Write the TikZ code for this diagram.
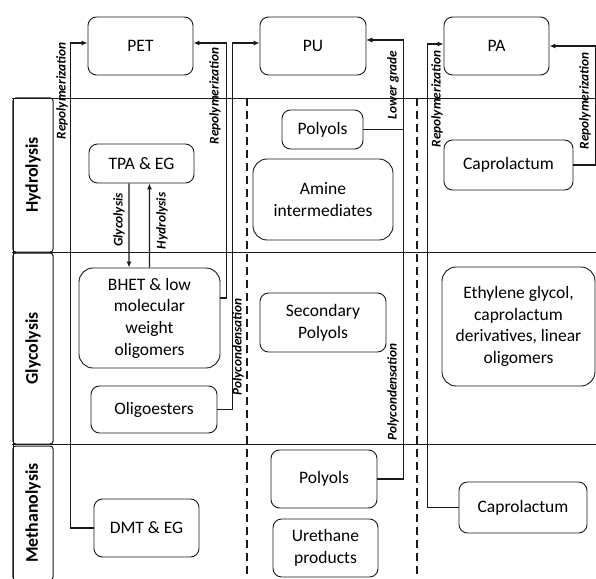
\documentclass[tikz,border=0pt]{standalone}
\usepackage{fontspec}
\setmainfont{Carlito}
\usepackage{tikz}
\usetikzlibrary{arrows.meta,positioning,calc}
\definecolor{darkLine}{HTML}{1A1A1A}

\begin{document}
\begin{tikzpicture}[x=1bp, y=-1bp,
    box/.style={rectangle, draw=darkLine, line width=0.9bp, rounded corners=3mm, align=center, inner sep=0pt, font=\fontsize{17.5bp}{21.7bp}\selectfont},
    bigbox/.style={box, rounded corners=5mm},
    rowbox/.style={rectangle, draw=darkLine, line width=1bp, rounded corners=1mm, rotate=90, minimum height=40bp, inner sep=0pt, font=\fontsize{17.8bp}{20bp}\selectfont\bfseries},
    lbl/.style={rotate=90, inner sep=1bp, font=\fontsize{13.3bp}{15bp}\selectfont\bfseries\itshape},
    grid/.style={draw=darkLine, line width=0.8bp},
    divider/.style={draw=darkLine, line width=1.3bp, dash pattern=on 8bp off 5bp},
    line/.style={draw=darkLine, line width=1.3bp, -{Latex[length=6bp, width=5bp]}}
]
\useasboundingbox (0,0) rectangle (596,579);

% Table
\draw[grid] (12,98) -- (596,98);
\draw[grid] (12,252) -- (596,252);
\draw[grid] (12,444) -- (596,444);
\draw[grid] (13,98) -- (13,579);
\draw[divider] (247,98) -- (247,579);
\draw[divider] (417,98) -- (417,579);

\node[rowbox, minimum width=154bp] (hyd) at (33,175) {Hydrolysis};
\node[rowbox, minimum width=191bp] (gly) at (33,348.5) {Glycolysis};
\node[rowbox, minimum width=134bp] (met) at (33,513) {Methanolysis};

% Nodes
\node[box, minimum width=105bp, minimum height=58bp] (pet) at (140.5,46) {PET};
\node[box, minimum width=106bp, minimum height=58bp] (pu) at (313,46) {PU};
\node[box, minimum width=105bp, minimum height=58bp] (pa) at (496.5,46) {PA};

\node[box, minimum width=105bp, minimum height=39bp] (tpa) at (141.5,163.5) {TPA \& EG};
\node[bigbox, minimum width=141bp, minimum height=100bp] (bhet) at (149.5,318) {BHET \& low\\molecular\\weight\\oligomers};
\node[box, minimum width=126bp, minimum height=47bp] (oligo) at (154,409.5) {Oligoesters};
\node[box, minimum width=105bp, minimum height=58bp] (dmt) at (146.5,528) {DMT \& EG};

\node[box, minimum width=81bp, minimum height=39bp] (polh) at (322.5,129.5) {Polyols};
\node[bigbox, minimum width=140bp, minimum height=81bp] (amine) at (323,199.5) {Amine\\intermediates};
\node[box, minimum width=126bp, minimum height=59bp] (secpol) at (323,322.5) {Secondary\\Polyols};
\node[box, minimum width=106bp, minimum height=58bp] (polm) at (324,479) {Polyols};
\node[box, minimum width=105bp, minimum height=58bp] (ureth) at (325.5,548) {Urethane\\products};

\node[box, minimum width=129bp, minimum height=50bp] (caph) at (508.5,165) {Caprolactum};
\node[bigbox, minimum width=153bp, minimum height=119bp] (egly) at (518.5,326.5) {Ethylene glycol,\\caprolactum\\derivatives, linear\\oligomers};
\node[box, minimum width=128bp, minimum height=51bp] (capm) at (523,507.5) {Caprolactum};

% Connections
\draw[line] (dmt.west) -- ++(-23,0) |- ([yshift=3bp]pet.west);
\draw[line] ([yshift=20bp]bhet.east) -- ++(6,0) |- ([yshift=3bp]pet.east);
\draw[line] (oligo.east) -- ++(15,0) |- ([yshift=3bp]pu.west);
\draw[line] (polh.east) -- ++(40,0) |- ([yshift=6bp]pu.east);
\draw[line] (polm.east) -- ++(26,0) |- ([yshift=6bp]pu.east);
\draw[line] (capm.west) -- ++(-31,0) |- ([yshift=2bp]pa.west);
\draw[line] (caph.east) -- ++(22,0) |- (pa.east);
\draw[line] ([xshift=-12.5bp]tpa.south) -- ([xshift=-20.5bp]bhet.north);
\draw[line] (bhet.north) -- ([xshift=8bp]tpa.south);

% Labels
\node[lbl] (repl1) at (62,91) {Repolymerization};
\node[lbl] (repl2) at (215,96) {Repolymerization};
\node[lbl] (polyc1) at (238,347) {Polycondensation};
\node[lbl] (lowg) at (393,85) {Lower grade};
\node[lbl] (polyc2) at (393,392) {Polycondensation};
\node[lbl] (repl3) at (437,99) {Repolymerization};
\node[lbl] (repl4) at (585,101) {Repolymerization};
\node[lbl] (glyc) at (119,220) {Glycolysis};
\node[lbl] (hydr) at (162,221) {Hydrolysis};

\end{tikzpicture}
\end{document}
